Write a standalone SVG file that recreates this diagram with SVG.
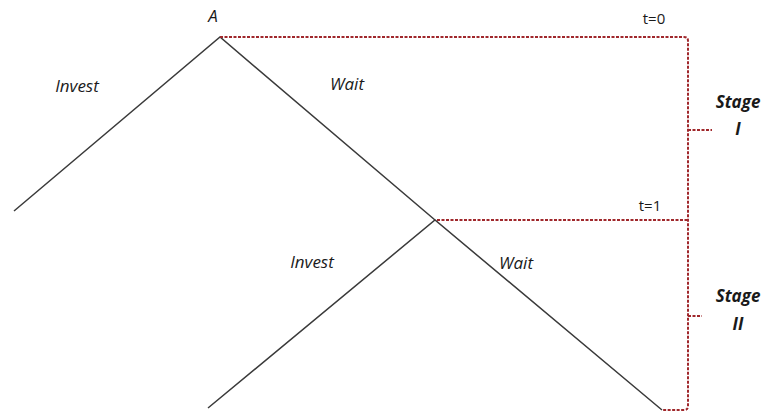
<svg xmlns="http://www.w3.org/2000/svg" width="764" height="413" viewBox="0 0 764 413">
<style>
.tree{stroke:#3a3a3a;stroke-width:1.5;fill:none}
.dash{stroke:#a0282c;stroke-width:2;stroke-dasharray:3 1.5;fill:none}
.lbl{font-family:"Open Sans","Liberation Sans",sans-serif;font-style:italic;font-size:17px;fill:#1a1a1a}
.t{font-family:"Open Sans","Liberation Sans",sans-serif;font-size:15px;fill:#1a1a1a}
.st{font-family:"Open Sans","Liberation Sans",sans-serif;font-style:italic;font-weight:bold;font-size:17px;fill:#1a1a1a;text-anchor:middle}
</style>
<rect width="764" height="413" fill="#fff"/>
<g id="connectors">
<path class="tree" d="M14,211 L220,37 L435,220"/>
<path class="tree" d="M208,408 L435,220 L662,410"/>
<path class="dash" d="M220,37 H684 Q688,37 688,41 V406 Q688,410 684,410 H662"/>
<path class="dash" d="M437,220 H688"/>
<path class="dash" d="M688,130 H712"/>
<path class="dash" d="M688,316 H702"/>
</g>
<g id="nodeA"><text class="lbl" x="213" y="22" text-anchor="middle">A</text></g>
<g id="t0"><text class="t" x="654" y="24" text-anchor="middle">t=0</text></g>
<g id="t1"><text class="t" x="650" y="211" text-anchor="middle">t=1</text></g>
<g id="invest1"><text class="lbl" x="77" y="92" text-anchor="middle">Invest</text></g>
<g id="wait1"><text class="lbl" x="347" y="90" text-anchor="middle">Wait</text></g>
<g id="invest2"><text class="lbl" x="312" y="268" text-anchor="middle">Invest</text></g>
<g id="wait2"><text class="lbl" x="516" y="269" text-anchor="middle">Wait</text></g>
<g id="stage1"><text class="st" x="738" y="108">Stage</text><text class="st" x="738" y="135">I</text></g>
<g id="stage2"><text class="st" x="738" y="302">Stage</text><text class="st" x="738" y="330">II</text></g>
</svg>
